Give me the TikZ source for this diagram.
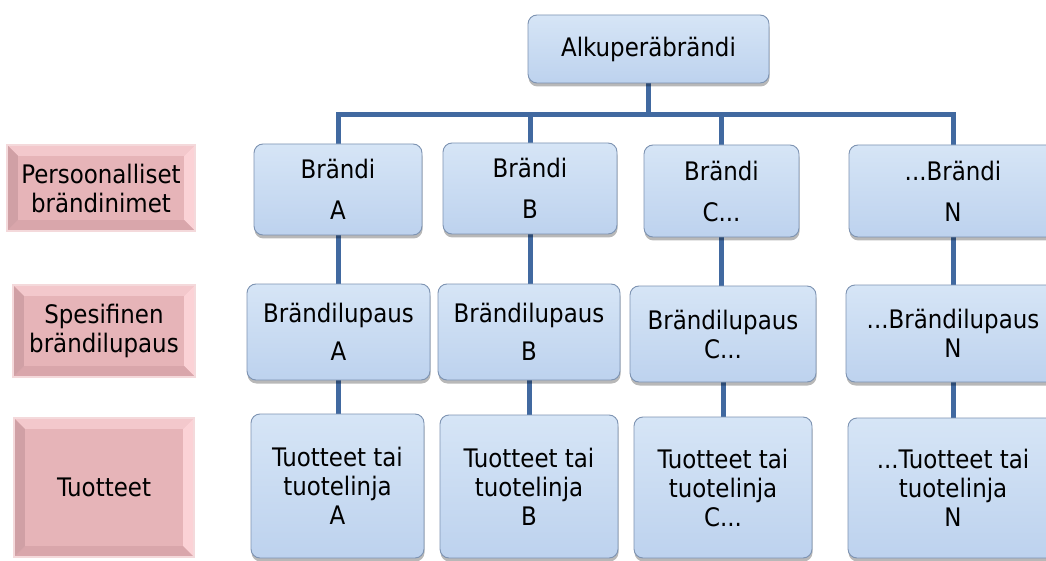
\documentclass[tikz,border=0pt]{standalone}
\usepackage{fontspec}
\setmainfont{DejaVu Sans Condensed}
\usetikzlibrary{shadows,calc}
\pgfdeclarelayer{bg}
\pgfsetlayers{bg,main}
\definecolor{connc}{HTML}{4169A0}
\definecolor{boxline}{HTML}{7D93B2}
\definecolor{boxtop}{HTML}{D6E5F6}
\definecolor{boxbot}{HTML}{BDD2EE}
\definecolor{pinkmid}{HTML}{E6B4B8}
\definecolor{pinktop}{HTML}{F3C8CC}
\definecolor{pinkright}{HTML}{FBD2D6}
\definecolor{pinkbot}{HTML}{D9A6AB}
\definecolor{pinkleft}{HTML}{D0A0A5}
\definecolor{pinkedge}{HTML}{F4D9DB}
\newcommand\pinkbevel[1]{%
  \begin{pgfonlayer}{bg}
    \fill[pinkmid] (#1.north west) rectangle (#1.south east);
    \fill[pinktop] (#1.north west) -- (#1.north east) -- ($(#1.north east)+(-11,11)$) -- ($(#1.north west)+(11,11)$) -- cycle;
    \fill[pinkright] (#1.north east) -- (#1.south east) -- ($(#1.south east)+(-11,-11)$) -- ($(#1.north east)+(-11,11)$) -- cycle;
    \fill[pinkbot] (#1.south west) -- (#1.south east) -- ($(#1.south east)+(-11,-11)$) -- ($(#1.south west)+(11,-11)$) -- cycle;
    \fill[pinkleft] (#1.north west) -- (#1.south west) -- ($(#1.south west)+(11,-11)$) -- ($(#1.north west)+(11,11)$) -- cycle;
    \draw[pinkedge, line width=1.5pt] (#1.north west) rectangle (#1.south east);
  \end{pgfonlayer}}
\begin{document}
\begin{tikzpicture}[x=1pt,y=-1pt,
  every node/.style={font=\fontsize{25.5}{29}\selectfont, align=center, inner sep=0pt, text=black},
  bluebox/.style 2 args={rectangle, rounded corners=9pt, draw=boxline, line width=0.9pt,
    top color=boxtop, bottom color=boxbot, minimum width=#1pt, minimum height=#2pt,
    drop shadow={shadow xshift=0.5pt, shadow yshift=-3.5pt, opacity=0.28, fill=black}},
  pinkbox/.style 2 args={rectangle, minimum width=#1pt, minimum height=#2pt},
  conn/.style={draw=connc, line width=5pt}]
\useasboundingbox (0,0) rectangle (1046,561);
\begin{pgfonlayer}{bg}
  \fill[white] (0,0) rectangle (1046,561);
\end{pgfonlayer}

% top
\node[bluebox={241}{68}] (top) at (648.5,49) {Alkuperäbrändi};

% row 1
\node[bluebox={168}{91}] (bA) at (338,189.5) {Brändi\\[12pt]A};
\node[bluebox={174}{91}] (bB) at (530,188.5) {Brändi\\[12pt]B};
\node[bluebox={155}{92}] (bC) at (721.5,191) {Brändi\\[12pt]C...};
\node[bluebox={208}{92}] (bN) at (953,191) {...Brändi\\[12pt]N};

% row 2
\node[bluebox={183}{96}] (lA) at (338.5,332) {Brändilupaus\\[9pt]A};
\node[bluebox={182}{96}] (lB) at (529,332) {Brändilupaus\\[9pt]B};
\node[bluebox={186}{96}] (lC) at (723,334) {Brändilupaus\\C...};
\node[bluebox={214}{97}] (lN) at (953,333.5) {...Brändilupaus\\N};

% row 3
\node[bluebox={173}{144}] (tA) at (337.5,486) {Tuotteet tai\\tuotelinja\\A};
\node[bluebox={178}{143}] (tB) at (529,486.5) {Tuotteet tai\\tuotelinja\\B};
\node[bluebox={178}{141}] (tC) at (723,487.5) {Tuotteet tai\\tuotelinja\\C...};
\node[bluebox={210}{140}] (tN) at (953,488) {...Tuotteet tai\\tuotelinja\\N};

% left labels
\node[pinkbox={188}{86}] (p1) at (101,188) {Persoonalliset\\brändinimet};
\node[pinkbox={182}{92}] (p2) at (104,331) {Spesifinen\\brändilupaus};
\node[pinkbox={180}{139}] (p3) at (104,487.5) {Tuotteet};
\pinkbevel{p1}
\pinkbevel{p2}
\pinkbevel{p3}

% connectors
\coordinate (j) at (648.5,115);
\begin{pgfonlayer}{bg}
  \draw[conn] (top.south) -- (j);
  \draw[conn] (j) -| (bA.north);
  \draw[conn] (j) -| (bB.north);
  \draw[conn] (j) -| (bC.north);
  \draw[conn] (j) -| (bN.north);
  \draw[conn] (bA.south) -- (bA.south |- lA.north);
  \draw[conn] (bB.south) -- (bB.south |- lB.north);
  \draw[conn] (bC.south) -- (bC.south |- lC.north);
  \draw[conn] (bN.south) -- (bN.south |- lN.north);
  \draw[conn] (lA.south) -- (lA.south |- tA.north);
  \draw[conn] (lB.south) -- (lB.south |- tB.north);
  \draw[conn] (lC.south) -- (lC.south |- tC.north);
  \draw[conn] (lN.south) -- (lN.south |- tN.north);
\end{pgfonlayer}
\end{tikzpicture}
\end{document}
